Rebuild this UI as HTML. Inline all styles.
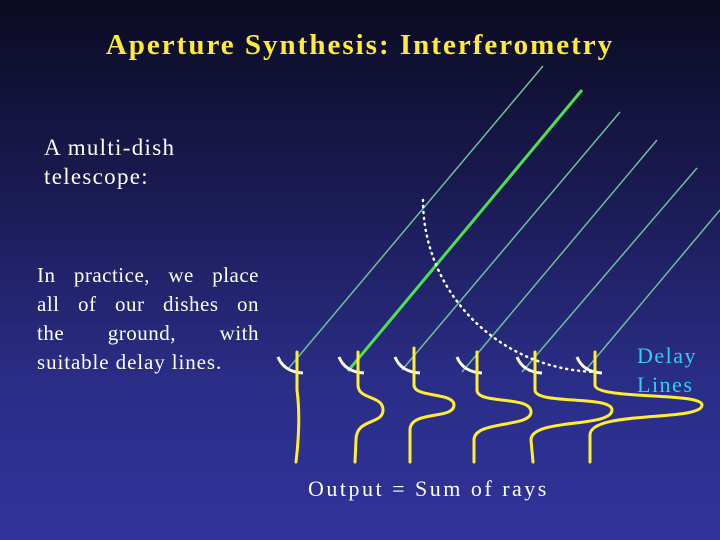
<!DOCTYPE html>
<html><head><style>
body{margin:0;width:720px;height:540px;overflow:hidden;background:linear-gradient(#0b0b22 0%,#1a1a52 35%,#2a2d86 70%,#30339a 100%);font-family:"Liberation Serif",serif;position:relative}
.t{position:absolute;white-space:nowrap}
.j{position:absolute;left:37px;width:222px;color:#fff;font-size:21px;letter-spacing:0.5px;text-align:justify;text-align-last:justify;white-space:normal}
</style></head><body>
<div class="t" style="left:0;width:720px;text-align:center;top:29px;color:#ffea3a;font-size:29px;letter-spacing:2px;font-weight:bold">Aperture Synthesis: Interferometry</div>
<div class="t" style="left:44px;top:133px;color:#fff;font-size:23px;letter-spacing:1.3px;line-height:29px">A multi-dish<br>telescope:</div>
<div class="j" style="top:263px">In practice, we place</div>
<div class="j" style="top:292px">all of our dishes on</div>
<div class="j" style="top:321px">the ground, with</div>
<div class="t" style="left:37px;top:350px;color:#fff;font-size:21px;letter-spacing:0.9px">suitable delay lines.</div>
<div class="t" style="left:637px;top:341px;color:#2fd0f0;font-size:22px;letter-spacing:1.5px;line-height:29px">Delay<br>Lines</div>
<div class="t" style="left:308px;top:476px;color:#fff;font-size:22px;letter-spacing:2.5px">Output = Sum of rays</div>
<svg width="720" height="540" style="position:absolute;left:0;top:0">
<g stroke="#6fbf9a" stroke-width="1.5">
<line x1="288" y1="369" x2="543" y2="66"/>
<line x1="402" y1="370" x2="620" y2="112"/>
<line x1="462" y1="372" x2="657" y2="140"/>
<line x1="522" y1="372" x2="697" y2="168"/>
<line x1="584" y1="372" x2="720" y2="210"/>
</g>
<line x1="348" y1="371" x2="582" y2="90" stroke="#4fe050" stroke-width="3"/>
<path d="M423 200 A177 172 0 0 0 600 372" fill="none" stroke="#fff" stroke-width="2.5" stroke-dasharray="1 5" stroke-linecap="round"/>
<g fill="none" stroke="#fff" stroke-width="3">
<path d="M278 357 Q284 372 303 373"/>
<path d="M339 357 Q345 372 364 373"/>
<path d="M395 357 Q401 372 420 373"/>
<path d="M457 357 Q463 372 482 373"/>
<path d="M517 357 Q523 372 542 373"/>
<path d="M577 357 Q583 372 602 373"/>
</g>
<g fill="none" stroke="#ffee30" stroke-width="3" stroke-linecap="round">
<path d="M297 352 L297 390 Q301 420 296 462"/>
<path d="M358 352 L358 385 C358 400 383 395 383 410 C383 425 356 418 356 440 L355 462"/>
<path d="M414 348 L414 385 C414 398 454 392 454 405 C454 420 410 410 410 430 L410 462"/>
<path d="M477 352 L477 390 C477 405 531 395 531 412 C531 428 474 420 474 440 L474 462"/>
<path d="M535 352 L535 390 C535 405 612 395 612 410 C612 428 531 418 531 440 L533 462"/>
<path d="M595 352 L595 385 C595 400 702 392 702 405 C702 422 590 410 590 435 L590 462"/>
</g>
</svg>
</body></html>
